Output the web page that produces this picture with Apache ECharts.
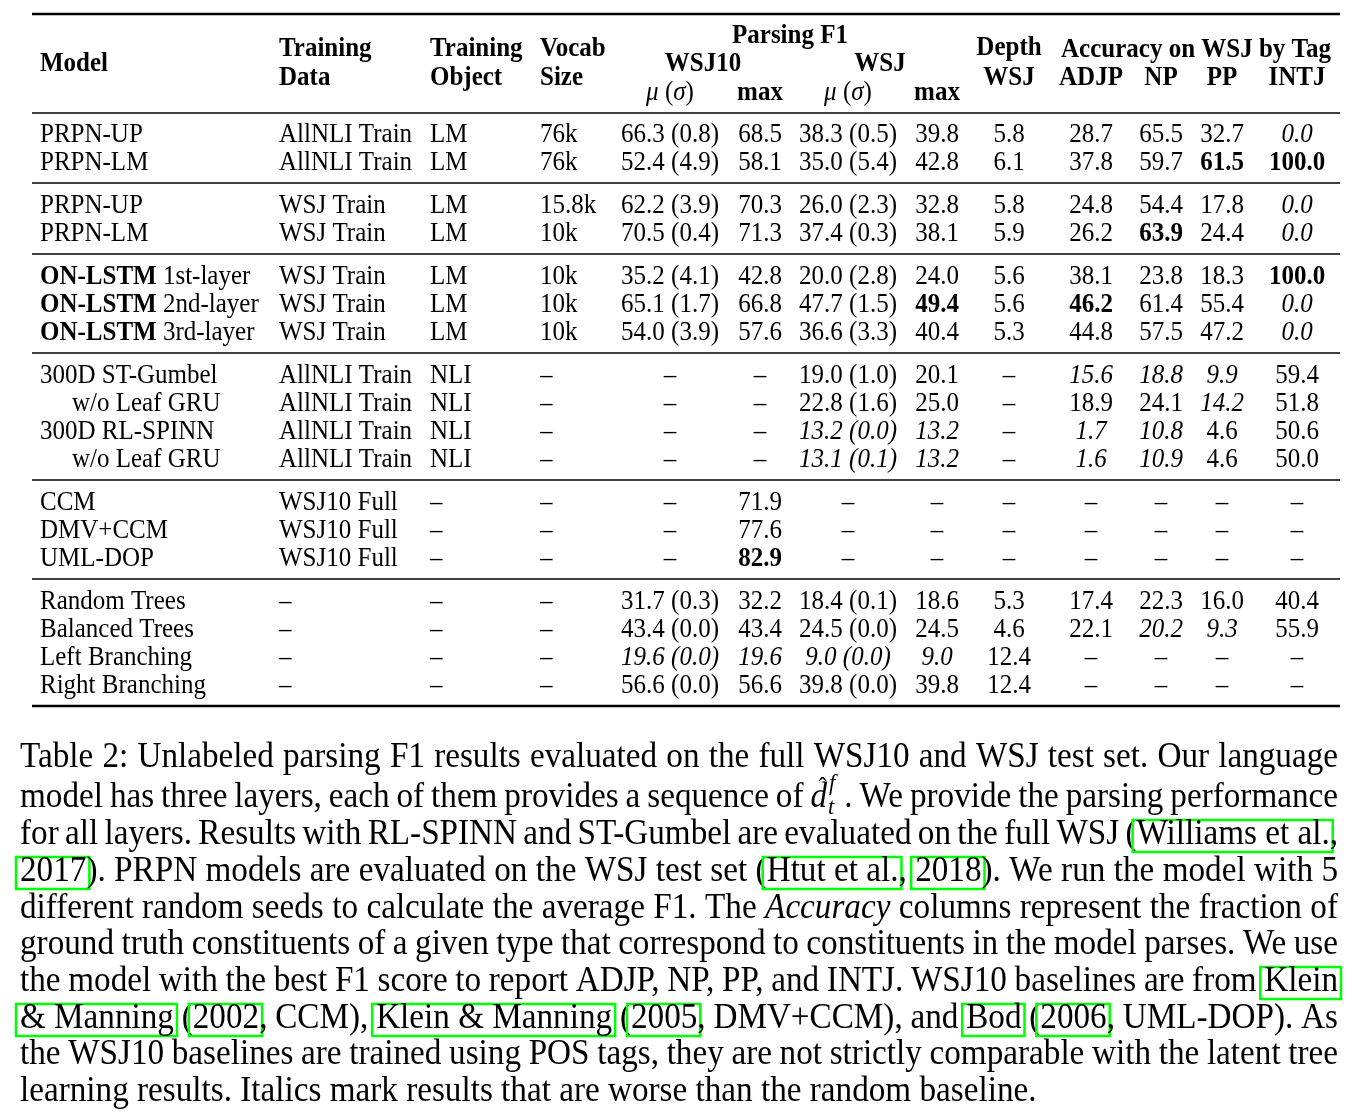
<!DOCTYPE html>
<html>
<head>
<meta charset="utf-8">
<script src="https://cdn.jsdelivr.net/npm/echarts@6/dist/echarts.min.js"></script>
<style>
  html, body { margin: 0; padding: 0; background: #fff; }
  #main { width: 1363px; height: 1117px; }
</style>
</head>
<body>
<div id="main"></div>
<script>
// ---- table content (markup: *bold*, _italic_, leading > = indented sub row) ----
const headerTexts = ['*Model*', '*Training*', '*Data*', '*Training*', '*Object*', '*Vocab*', '*Size*',
  '*Parsing F1*', '*WSJ10*', '*WSJ*', '_μ_ (_σ_)', '*max*', '_μ_ (_σ_)', '*max*',
  '*Depth*', '*WSJ*', '*Accuracy on WSJ by Tag*', '*ADJP*', '*NP*', '*PP*', '*INTJ*']

const models = ['PRPN-UP', 'PRPN-LM', 'PRPN-UP', 'PRPN-LM',
  '*ON-LSTM* 1st-layer', '*ON-LSTM* 2nd-layer', '*ON-LSTM* 3rd-layer',
  '300D ST-Gumbel', '>w/o Leaf GRU', '300D RL-SPINN', '>w/o Leaf GRU',
  'CCM', 'DMV+CCM', 'UML-DOP',
  'Random Trees', 'Balanced Trees', 'Left Branching', 'Right Branching']
const trainData = ['AllNLI Train', 'AllNLI Train', 'WSJ Train', 'WSJ Train', 'WSJ Train', 'WSJ Train', 'WSJ Train',
  'AllNLI Train', 'AllNLI Train', 'AllNLI Train', 'AllNLI Train', 'WSJ10 Full', 'WSJ10 Full', 'WSJ10 Full', '–', '–', '–', '–']
const trainObj = ['LM', 'LM', 'LM', 'LM', 'LM', 'LM', 'LM', 'NLI', 'NLI', 'NLI', 'NLI', '–', '–', '–', '–', '–', '–', '–']
const vocab = ['76k', '76k', '15.8k', '10k', '10k', '10k', '10k', '–', '–', '–', '–', '–', '–', '–', '–', '–', '–', '–']
const wsj10Mean = ['66.3 (0.8)', '52.4 (4.9)', '62.2 (3.9)', '70.5 (0.4)', '35.2 (4.1)', '65.1 (1.7)', '54.0 (3.9)',
  '–', '–', '–', '–', '–', '–', '–', '31.7 (0.3)', '43.4 (0.0)', '_19.6 (0.0)_', '56.6 (0.0)']
const wsj10Max = ['68.5', '58.1', '70.3', '71.3', '42.8', '66.8', '57.6', '–', '–', '–', '–',
  '71.9', '77.6', '*82.9*', '32.2', '43.4', '_19.6_', '56.6']
const wsjMean = ['38.3 (0.5)', '35.0 (5.4)', '26.0 (2.3)', '37.4 (0.3)', '20.0 (2.8)', '47.7 (1.5)', '36.6 (3.3)',
  '19.0 (1.0)', '22.8 (1.6)', '_13.2 (0.0)_', '_13.1 (0.1)_', '–', '–', '–',
  '18.4 (0.1)', '24.5 (0.0)', '_9.0 (0.0)_', '39.8 (0.0)']
const wsjMax = ['39.8', '42.8', '32.8', '38.1', '24.0', '*49.4*', '40.4', '20.1', '25.0', '_13.2_', '_13.2_',
  '–', '–', '–', '18.6', '24.5', '_9.0_', '39.8']
const depthWsj = ['5.8', '6.1', '5.8', '5.9', '5.6', '5.6', '5.3', '–', '–', '–', '–', '–', '–', '–', '5.3', '4.6', '12.4', '12.4']
const accADJP = ['28.7', '37.8', '24.8', '26.2', '38.1', '*46.2*', '44.8', '_15.6_', '18.9', '_1.7_', '_1.6_',
  '–', '–', '–', '17.4', '22.1', '–', '–']
const accNP = ['65.5', '59.7', '54.4', '*63.9*', '23.8', '61.4', '57.5', '_18.8_', '24.1', '_10.8_', '_10.9_',
  '–', '–', '–', '22.3', '_20.2_', '–', '–']
const accPP = ['32.7', '*61.5*', '17.8', '24.4', '18.3', '55.4', '47.2', '_9.9_', '_14.2_', '4.6', '4.6',
  '–', '–', '–', '16.0', '_9.3_', '–', '–']
const accINTJ = ['_0.0_', '*100.0*', '_0.0_', '_0.0_', '*100.0*', '_0.0_', '_0.0_', '59.4', '51.8', '50.6', '50.0',
  '–', '–', '–', '40.4', '55.9', '–', '–']
const sectionSizes = [2, 2, 3, 4, 3, 4]

// caption (markup: [link box], _italic_, $ = d-hat symbol)
const captionLines = [
  'Table 2: Unlabeled parsing F1 results evaluated on the full WSJ10 and WSJ test set. Our language',
  'model has three layers, each of them provides a sequence of $ . We provide the parsing performance',
  'for all layers. Results with RL-SPINN and ST-Gumbel are evaluated on the full WSJ ([Williams et al.],',
  '[2017]). PRPN models are evaluated on the WSJ test set ([Htut et al.], [2018]). We run the model with 5',
  'different random seeds to calculate the average F1. The _Accuracy_ columns represent the fraction of',
  'ground truth constituents of a given type that correspond to constituents in the model parses. We use',
  'the model with the best F1 score to report ADJP, NP, PP, and INTJ. WSJ10 baselines are from [Klein]',
  '[& Manning] ([2002], CCM), [Klein & Manning] ([2005], DMV+CCM), and [Bod] ([2006], UML-DOP). As',
  'the WSJ10 baselines are trained using POS tags, they are not strictly comparable with the latent tree',
  'learning results. Italics mark results that are worse than the random baseline.'
]

// ---- layout ----
const FAM = '"Liberation Serif", "Times New Roman", serif'
const TAB_SIZE = 25, TAB_SY = 1.08
const CAP_SIZE = 33.2, CAP_SY = 1.06
const columns = [models, trainData, trainObj, vocab, wsj10Mean, wsj10Max, wsjMean, wsjMax, depthWsj, accADJP, accNP, accPP, accINTJ]
const colX = [40, 279, 430, 540, 670, 760, 848, 937, 1009, 1091, 1161, 1222, 1297]
const colAlign = ['left', 'left', 'left', 'left', 'center', 'center', 'center', 'center', 'center', 'center', 'center', 'center', 'center']
const headerPos = [[40, 64, 'left'], [279, 49, 'left'], [279, 78, 'left'], [430, 49, 'left'], [430, 78, 'left'],
  [540, 49, 'left'], [540, 78, 'left'], [790, 36, 'center'], [703, 64, 'center'], [880, 64, 'center'],
  [670, 93, 'center'], [760, 93, 'center'], [848, 93, 'center'], [937, 93, 'center'],
  [1009, 48, 'center'], [1009, 78, 'center'], [1196, 50, 'center'],
  [1091, 78, 'center'], [1161, 78, 'center'], [1222, 78, 'center'], [1297, 78, 'center']]
const ruleY = [14, 113, 183, 254, 353, 480, 579, 706]
const RULE_L = 32, RULE_R = 1340
const CAP_L = 20, CAP_R = 1338
const capMid = [758, 798, 835, 872, 909, 945, 982, 1019, 1055, 1092]

// row positions: fixed step, extra gap between sections
const rowY = []
let yy = 135
sectionSizes.forEach(n => {
  for (let i = 0; i < n; i++) { rowY.push(yy); yy += 28 }
  yy += 15
})

function font(size, it, bold) {
  return (it ? 'italic ' : '') + (bold ? 'bold ' : '') + size + 'px ' + FAM
}
const RICH = {
  b: { font: font(TAB_SIZE, false, true), fill: '#000' },
  i: { font: font(TAB_SIZE, true, false), fill: '#000' }
}
function toRich(s) {
  return s.replace(/\*([^*]+)\*/g, '{b|$1}').replace(/_([^_]+)_/g, '{i|$1}')
}
function cellText(txt, x, y, align) {
  let indent = 0
  if (txt[0] === '>') { txt = txt.slice(1); indent = 32 }
  return {
    type: 'text', x: x + indent, y: y, scaleY: TAB_SY, silent: true,
    style: {
      text: toRich(txt), rich: RICH, font: font(TAB_SIZE), fill: '#000',
      align: align, textAlign: align, verticalAlign: 'middle', textVerticalAlign: 'middle'
    }
  }
}

// table cells and header data for the custom series
const cellData = []
rowY.forEach((y, r) => colX.forEach((x, c) => cellData.push([x, y, r, c])))
const headData = headerPos.map((p, k) => [p[0], p[1], k])

// ---- caption layout (justified, measured with canvas) ----
const ctx = document.createElement('canvas').getContext('2d')
function measure(t, size, it) { ctx.font = font(size, it); return ctx.measureText(t).width }

function parseLine(s) {
  const frags = []
  let it = false, cur = ''
  const push = (box) => { if (cur) frags.push({ t: cur, it: it, box: !!box }); cur = '' }
  for (const ch of s) {
    if (ch === '_') { push(); it = !it }
    else if (ch === '[') { push() }
    else if (ch === ']') { push(true) }
    else if (ch === '$') { push(); frags.push({ math: true }) }
    else cur += ch
  }
  push()
  return frags
}
function splitWords(frags) {
  const words = [[]]
  frags.forEach(f => {
    if (f.box || f.math) { words[words.length - 1].push(f); return }
    f.t.split(' ').forEach((p, k) => {
      if (k > 0) words.push([])
      if (p) words[words.length - 1].push({ t: p, it: f.it })
    })
  })
  return words.filter(w => w.length)
}

const capEls = []
function capText(t, x, y, size, it) {
  capEls.push({
    type: 'text', x: x, y: y, scaleY: CAP_SY, silent: true,
    style: { text: t, font: font(size, it), fill: '#000', align: 'left', textAlign: 'left', verticalAlign: 'middle', textVerticalAlign: 'middle' }
  })
}
const dW = measure('d', CAP_SIZE, true)
const mathW = dW + measure('f', CAP_SIZE * 0.7, true) + 4

captionLines.forEach((line, li) => {
  const words = splitWords(parseLine(line))
  let total = 0
  words.forEach(w => w.forEach(p => { p.w = p.math ? mathW : measure(p.t, CAP_SIZE, p.it); total += p.w }))
  const last = li === captionLines.length - 1
  const gap = last ? measure(' ', CAP_SIZE) : (CAP_R - CAP_L - total) / (words.length - 1)
  const y = capMid[li]
  let x = CAP_L
  words.forEach(w => {
    w.forEach(p => {
      if (p.math) {
        capText('d', x, y, CAP_SIZE, true)
        capText('ˆ', x + dW * 0.5, y - 9, CAP_SIZE * 0.7, false)
        capText('f', x + dW + 2, y - CAP_SIZE * 0.42, CAP_SIZE * 0.68, true)
        capText('t', x + dW + 1, y + CAP_SIZE * 0.3, CAP_SIZE * 0.68, true)
      } else {
        if (p.box) {
          capEls.push({
            type: 'rect', silent: true,
            shape: { x: x - 4, y: y - 15, width: p.w + 7, height: 32 },
            style: { fill: 'none', stroke: '#00ff00', lineWidth: 2.5 }
          })
        }
        capText(p.t, x, y, CAP_SIZE, p.it)
      }
      x += p.w
    })
    x += gap
  })
})

// ---- chart ----
const chart = echarts.init(document.getElementById('main'))
chart.setOption({
  animation: false,
  grid: { left: 0, right: 0, top: 0, bottom: 0 },
  xAxis: { type: 'value', min: 0, max: 1363, show: false },
  yAxis: { type: 'value', min: 0, max: 1117, inverse: true, show: false },
  series: [{
    name: 'rules', type: 'custom', clip: false, silent: true,
    data: ruleY.map((y, k) => [y, k === 0 || k === ruleY.length - 1 ? 1 : 0]),
    renderItem: (params, api) => {
      const a = api.coord([RULE_L, api.value(0)])
      const b = api.coord([RULE_R, api.value(0)])
      return {
        type: 'line', shape: { x1: a[0], y1: a[1], x2: b[0], y2: b[1] },
        style: { stroke: '#000', lineWidth: api.value(1) ? 2.6 : 1.5 }
      }
    }
  }, {
    name: 'header', type: 'custom', clip: false, silent: true,
    data: headData,
    renderItem: (params, api) => {
      const k = api.value(2)
      const pt = api.coord([api.value(0), api.value(1)])
      return cellText(headerTexts[k], pt[0], pt[1], headerPos[k][2])
    }
  }, {
    name: 'cells', type: 'custom', clip: false, silent: true,
    data: cellData,
    renderItem: (params, api) => {
      const r = api.value(2), c = api.value(3)
      const pt = api.coord([api.value(0), api.value(1)])
      return cellText(columns[c][r], pt[0], pt[1], colAlign[c])
    }
  }],
  graphic: { elements: capEls }
})
</script>
</body>
</html>
